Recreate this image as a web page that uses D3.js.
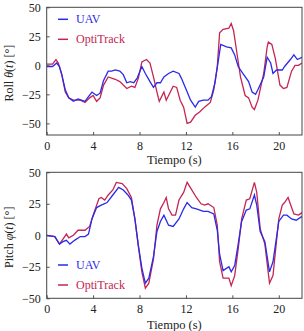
<!DOCTYPE html>
<html>
<head>
<meta charset="utf-8">
<script src="https://cdn.jsdelivr.net/npm/d3@7"></script>
<style>
body { margin: 0; background: #fff; }
text { font-family: "Liberation Serif", "DejaVu Serif", serif; }
</style>
</head>
<body>
<div id="chart"></div>
<script>
var rollUavT = [0,0.5,0.86,1.1,1.3,1.6,1.9,2.3,2.7,3.3,3.6,3.9,4.3,4.6,4.9,5.3,5.6,5.9,6.3,6.6,6.9,7.2,7.5,7.8,8.2,8.5,8.9,9.2,9.5,9.8,10.1,10.5,10.9,11.4,11.6,11.9,12.4,12.8,13.1,13.5,13.9,14.2,14.5,14.8,15.0,15.5,15.9,16.2,16.5,16.9,17.4,17.7,18.0,18.2,18.7,19.0,19.3,19.5,19.8,20.3,20.5,21.0,21.3,21.6,22];
var rollUav  = [-1,-1,2,-1,-8,-21,-28,-31,-29,-31,-27,-23,-26,-24,-13,-5,-5,-4,-5,-8,-15,-14,-15,-11,-1,-7,-14,-19,-15,-15,-10,-7,-5,-7,-11,-18,-30,-36,-31,-30,-30,-27,-15,5,18,16,15,9,-1,-7,-14,-23,-25,-21,-10,7,2,-7,-4,-4,-1,5,9,5,7];

var rollOptiT = [0,0.5,0.8,1.0,1.3,1.6,1.9,2.3,2.9,3.3,3.7,4.0,4.3,4.6,4.9,5.3,5.9,6.3,6.9,7.3,7.6,7.9,8.2,8.6,8.9,9.2,9.5,9.7,10.1,10.3,10.6,10.9,11.2,11.5,11.8,12.1,12.4,12.8,13.2,13.6,14.1,14.4,14.7,14.9,15.2,15.7,15.9,16.1,16.4,16.7,17.1,17.4,17.7,17.9,18.2,18.7,19.0,19.1,19.4,19.7,20.1,20.4,20.7,21.1,21.4,21.7,22];
var rollOpti  = [1,1,5,2,-8,-23,-28,-30,-30,-32,-28,-26,-31,-28,-17,-10,-12,-14,-20,-18,-19,-11,3,5,2,-10,-23,-31,-23,-30,-24,-18,-19,-30,-36,-50,-49,-43,-40,-36,-32,-21,-1,28,31,32,36,30,10,-10,-26,-28,-36,-38,-30,-7,16,20,18,6,-17,-20,-19,-5,0,0,2];

var pitchUavT = [0,0.7,1.1,1.4,1.7,2.0,2.4,2.9,3.3,3.6,3.9,4.3,4.7,5.2,5.7,6.2,6.6,7.0,7.3,7.6,7.9,8.2,8.5,8.8,9.2,9.5,9.8,10.1,10.5,10.9,11.4,11.8,12.1,12.5,12.9,13.5,13.9,14.4,14.7,14.9,15.2,15.7,15.9,16.2,16.5,16.8,17.2,17.5,17.9,18.1,18.4,18.8,19.2,19.5,20.0,20.4,20.7,21.1,21.5,22];
var pitchUav  = [0,-1,-7,-5,-4,-7,-4,-1,-1,1,13,22,24,26,32,38,36,32,28,13,-8,-26,-38,-34,-17,3,11,16,8,7,13,21,26,22,21,19,19,17,4,-15,-28,-25,-29,-24,-7,11,20,21,32,24,3,-5,-29,-21,11,16,16,13,12,15];

var pitchOptiT = [0,0.7,1.1,1.4,1.7,1.9,2.3,2.7,3.3,3.7,4.0,4.5,4.7,5.0,5.3,5.7,6.0,6.5,6.9,7.3,7.6,7.9,8.2,8.5,8.8,9.2,9.5,9.8,10.1,10.3,10.5,10.8,11.1,11.4,11.8,12.1,12.5,12.9,13.3,13.6,13.9,14.4,14.7,14.9,15.2,15.7,15.9,16.2,16.5,16.8,17.2,17.5,17.9,18.1,18.4,18.8,19.2,19.5,20.0,20.3,20.5,20.8,21.3,21.7,22];
var pitchOpti  = [0,-1,-7,-3,1,-2,0,4,4,7,16,29,30,28,32,36,42,41,37,30,13,-9,-29,-42,-38,-19,8,21,26,30,21,16,16,28,34,42,36,30,25,24,25,22,8,-21,-34,-34,-40,-32,-11,13,28,29,42,34,5,-7,-38,-32,13,24,26,30,17,16,18];

var xTicks = [0, 4, 8, 12, 16, 20];
var yTicks = [-50, -25, 0, 25, 50];
var seriesNames = ["UAV", "OptiTrack"];

var width = 304,
    height = 331,
    blue = "#2a2ae8",
    red = "#c42552";

var svg = d3.select("#chart")
    .append("svg")
    .attr("width", width)
    .attr("height", height);

var drawPanel = function(opts) {
	var x = d3.scaleLinear().domain([0, 22]).range([46.7, 302]);
	var y = d3.scaleLinear().domain(opts.yDomain).range(opts.yRange);

	var g = svg.append("g");

	/* ticks */
	g.append("g")
	    .attr("transform", "translate(0," + opts.yRange[0] + ")")
	    .call(d3.axisBottom(x).tickValues(xTicks).tickSize(-3).tickPadding(6).tickFormat(d3.format("d")))
	    .call(function(a) {
	        a.select(".domain").remove();
	        a.selectAll("line").attr("stroke", "#555");
	        a.selectAll("text").attr("font-size", 12).attr("fill", "#222");
	    });

	g.append("g")
	    .attr("transform", "translate(46.7,0)")
	    .call(d3.axisLeft(y).tickValues(yTicks).tickSize(-3).tickPadding(6).tickFormat(d3.format("d")))
	    .call(function(a) {
	        a.select(".domain").remove();
	        a.selectAll("line").attr("stroke", "#555");
	        a.selectAll("text").attr("font-size", 12).attr("fill", "#222");
	    });

	var line = d3.line()
	    .x(function(d) { return x(d[0]); })
	    .y(function(d) { return y(d[1]); });

	var clipId = "clip" + opts.id;
	g.append("clipPath").attr("id", clipId)
	    .append("rect")
	    .attr("x", x(0)).attr("y", opts.yRange[1])
	    .attr("width", x(22) - x(0)).attr("height", opts.yRange[0] - opts.yRange[1]);

	g.append("path")
	    .attr("d", line(d3.zip(opts.optiT, opts.opti)))
	    .attr("fill", "none")
	    .attr("stroke", red)
	    .attr("stroke-width", 1.3)
	    .attr("clip-path", "url(#" + clipId + ")");

	g.append("path")
	    .attr("d", line(d3.zip(opts.uavT, opts.uav)))
	    .attr("fill", "none")
	    .attr("stroke", blue)
	    .attr("stroke-width", 1.3)
	    .attr("clip-path", "url(#" + clipId + ")");

	/* frame */
	g.append("rect")
	    .attr("x", x(0))
	    .attr("y", opts.yRange[1])
	    .attr("width", x(22) - x(0))
	    .attr("height", opts.yRange[0] - opts.yRange[1])
	    .attr("fill", "none")
	    .attr("stroke", "#444")
	    .attr("stroke-width", 1);

	/* legend */
	var legend = g.selectAll(".legend" + opts.id)
	    .data(seriesNames)
	    .enter().append("g")
	    .attr("transform", function(d, i) { return "translate(58," + (opts.legendY + i * 20) + ")"; });

	legend.append("line")
	    .attr("x1", 0).attr("x2", 10)
	    .attr("stroke", function(d, i) { return i == 0 ? blue : red; })
	    .attr("stroke-width", 1.5);

	legend.append("text")
	    .attr("x", 18)
	    .attr("y", 4)
	    .attr("font-size", 12)
	    .attr("fill", function(d, i) { return i == 0 ? blue : red; })
	    .text(function(d) { return d; });

	/* labels */
	g.append("text")
	    .attr("x", (x(0) + x(22)) / 2)
	    .attr("y", opts.titleY)
	    .attr("text-anchor", "middle")
	    .attr("font-size", 12.5)
	    .attr("fill", "#222")
	    .text("Tiempo (s)");

	var yl = g.append("text")
	    .attr("transform", "translate(13," + ((opts.yRange[0] + opts.yRange[1]) / 2 + 2) + ") rotate(-90)")
	    .attr("text-anchor", "middle")
	    .attr("font-size", 12)
	    .attr("fill", "#222");
	yl.append("tspan").text(opts.label + " ");
	yl.append("tspan").attr("font-style", "italic").text(opts.sym);
	yl.append("tspan").text("(");
	yl.append("tspan").attr("font-style", "italic").text("t");
	yl.append("tspan").text(") [°]");
}

drawPanel({
	id: 1, yDomain: [-60, 50], yRange: [135, 7.3],
	uavT: rollUavT, uav: rollUav, optiT: rollOptiT, opti: rollOpti,
	legendY: 19.3, titleY: 163.5, label: "Roll", sym: "θ"
});

drawPanel({
	id: 2, yDomain: [-50, 50], yRange: [298.3, 172.3],
	uavT: pitchUavT, uav: pitchUav, optiT: pitchOptiT, opti: pitchOpti,
	legendY: 265, titleY: 328.5, label: "Pitch", sym: "φ"
});
</script>
</body>
</html>
